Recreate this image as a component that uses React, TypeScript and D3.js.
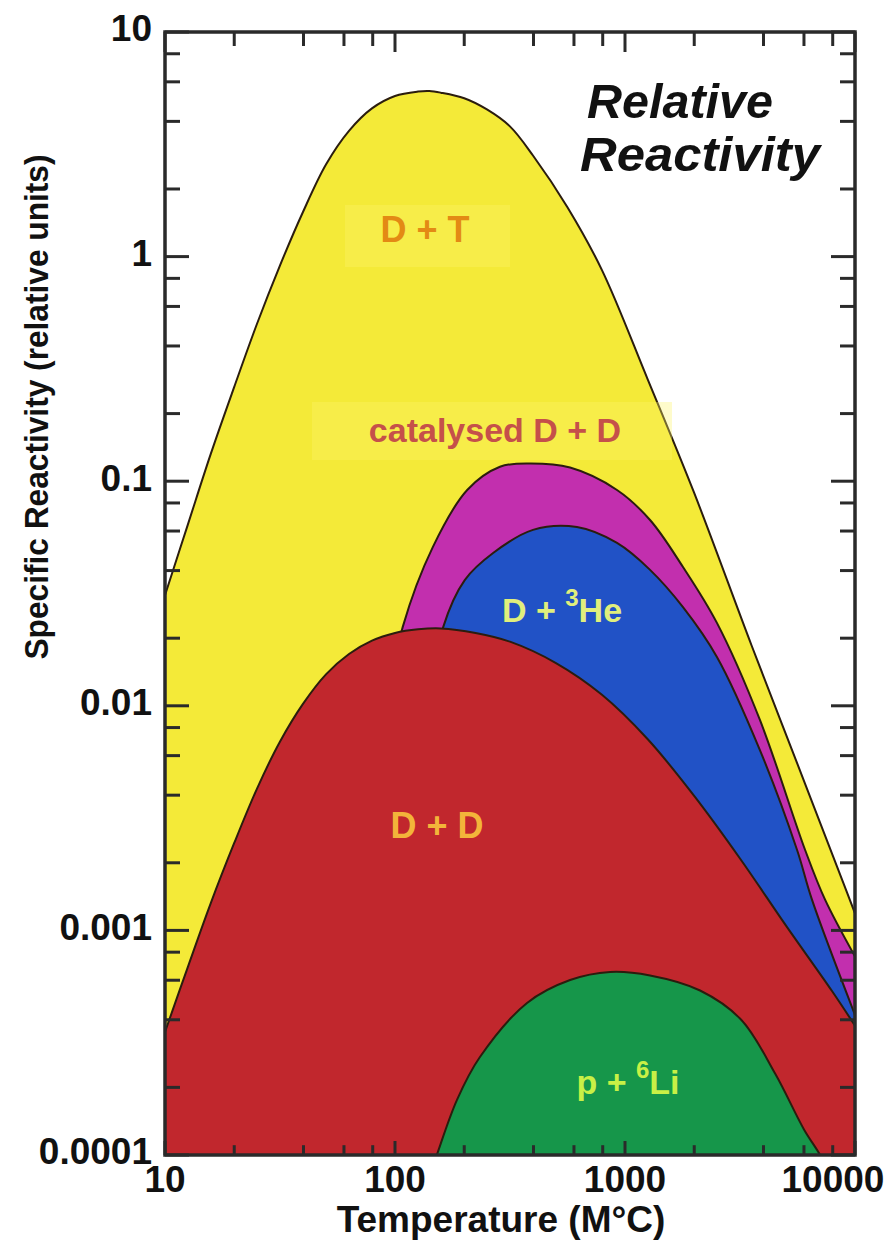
import React, { useEffect, useRef } from 'react';
import * as d3 from 'd3';

type Pt = [number, number];

// [temperature (M°C), specific reactivity (relative units)]
const dtCurve: Pt[] = [
  [8.9, 0.0214], [10, 0.0311], [12.6, 0.0646], [15.8, 0.132], [20, 0.263], [25.1, 0.501],
  [31.6, 0.912], [39.8, 1.58], [50.1, 2.57], [63.1, 3.63], [79.4, 4.57], [100, 5.19],
  [126, 5.43], [141, 5.46], [158, 5.37], [200, 5.07], [251, 4.52], [316, 3.8], [398, 2.82],
  [562, 1.66], [794, 0.871], [1259, 0.282], [1995, 0.0891], [3548, 0.0186], [5623, 0.0055],
  [8913, 0.00162], [10233, 0.00112],
];
const catDdCurve: Pt[] = [
  [86.1, 0.00705], [97, 0.013], [108, 0.0224], [146, 0.0509], [206, 0.0914], [286, 0.116],
  [386, 0.12], [577, 0.115], [923, 0.0914], [1285, 0.0672], [1787, 0.0415], [2510, 0.0234],
  [3860, 0.00865], [6070, 0.00228], [7410, 0.00137], [10200, 0.000738],
];
const dHe3Curve: Pt[] = [
  [142, 0.0106], [162, 0.0224], [201, 0.0363], [267, 0.0479], [398, 0.0607], [618, 0.0625],
  [923, 0.0531], [1285, 0.0403], [1787, 0.0275], [2510, 0.0165], [3860, 0.00635],
  [5600, 0.00228], [6500, 0.00137], [10200, 0.000399],
];
const ddCurve: Pt[] = [
  [8.9, 0.000251], [10, 0.000353], [12.6, 0.000692], [15.8, 0.00132], [20, 0.00245],
  [25.1, 0.00427], [31.6, 0.00692], [39.8, 0.0102], [50.1, 0.0138], [63.1, 0.017],
  [79.4, 0.0195], [100, 0.0211], [126, 0.0219], [158, 0.0221], [224, 0.0211], [316, 0.0193],
  [501, 0.0155], [794, 0.0112], [1259, 0.00708], [1995, 0.00398], [3162, 0.00209],
  [5012, 0.00105], [7943, 0.000537], [10233, 0.000363],
];
const pLi6Curve: Pt[] = [
  [142, 0.0000815], [152, 0.0001], [186, 0.000176], [234, 0.000273], [375, 0.000475],
  [577, 0.000601], [861, 0.000653], [1285, 0.00063], [2120, 0.00054], [3200, 0.0004],
  [4500, 0.00023], [6000, 0.00013], [7050, 0.0001], [7780, 0.0000815],
];

const xTickValues = [10, 100, 1000, 10000];
const yTickValues = [10, 1, 0.1, 0.01, 0.001, 0.0001];
const yTickLabels = ['10', '1', '0.1', '0.01', '0.001', '0.0001'];

const W = 895;
const H = 1242;
const FONT = '"Liberation Sans", Arial, Helvetica, sans-serif';

export default function App() {
  const ref = useRef<SVGSVGElement>(null);

  useEffect(() => {
    if (!ref.current) return;
    const svg = d3.select(ref.current);
    svg.selectAll('*').remove();

    const x = d3.scaleLog().domain([10, 10000]).range([165, 855]);
    const y = d3.scaleLog().domain([0.0001, 10]).range([1155, 32]);
    const [x0, x1] = x.range();
    const [yb, yt] = y.range();

    svg.append('rect').attr('width', W).attr('height', H).attr('fill', '#fff');

    svg.append('defs').append('clipPath').attr('id', 'plot-clip')
      .append('rect').attr('x', x0).attr('y', yt).attr('width', x1 - x0).attr('height', yb - yt);

    const plot = svg.append('g').attr('clip-path', 'url(#plot-clip)');

    const curve = d3.curveCatmullRom.alpha(0.5);
    const area = d3.area<Pt>().x(d => x(d[0])).y0(yb + 40).y1(d => y(d[1])).curve(curve);
    const line = d3.line<Pt>().x(d => x(d[0])).y(d => y(d[1])).curve(curve);

    const layers: { data: Pt[]; fill: string }[] = [
      { data: dtCurve, fill: '#f4ea38' },
      { data: catDdCurve, fill: '#c22fae' },
      { data: dHe3Curve, fill: '#2152c6' },
      { data: ddCurve, fill: '#c1272d' },
      { data: pLi6Curve, fill: '#16964a' },
    ];

    layers.forEach(l => {
      plot.append('path').attr('d', area(l.data)).attr('fill', l.fill);
      plot.append('path').attr('d', line(l.data)).attr('fill', 'none')
        .attr('stroke', '#2b1d0e').attr('stroke-width', 2);
    });

    // region labels
    const label = (tx: number, ty: number, color: string, size: number) =>
      svg.append('text').attr('x', tx).attr('y', ty).attr('text-anchor', 'middle')
        .attr('font-family', FONT).attr('font-weight', 'bold').attr('font-size', size)
        .attr('fill', color);

    svg.append('rect').attr('x', 345).attr('y', 205).attr('width', 165).attr('height', 62)
      .attr('fill', '#fbf36a').attr('opacity', 0.35);
    label(425, 242, '#e38a14', 36).text('D + T');

    svg.append('rect').attr('x', 312).attr('y', 402).attr('width', 360).attr('height', 58)
      .attr('fill', '#fbf36a').attr('opacity', 0.35);
    label(495, 442, '#c5504a', 34).text('catalysed D + D');

    const he = label(562, 622, '#e0ef7c', 34);
    he.append('tspan').text('D + ');
    he.append('tspan').attr('dy', -16).attr('font-size', 24).text('3');
    he.append('tspan').attr('dy', 16).text('He');

    label(437, 838, '#f3b43a', 36).text('D + D');

    const li = label(628, 1094, '#c8f046', 34);
    li.append('tspan').text('p + ');
    li.append('tspan').attr('dy', -16).attr('font-size', 24).text('6');
    li.append('tspan').attr('dy', 16).text('Li');

    // title
    svg.append('text').attr('x', 587).attr('y', 118).attr('font-family', FONT)
      .attr('font-weight', 'bold').attr('font-style', 'italic').attr('font-size', 48)
      .attr('textLength', 186).attr('lengthAdjust', 'spacingAndGlyphs')
      .attr('fill', '#111').text('Relative');
    svg.append('text').attr('x', 580).attr('y', 171).attr('font-family', FONT)
      .attr('font-weight', 'bold').attr('font-style', 'italic').attr('font-size', 48)
      .attr('textLength', 240).attr('lengthAdjust', 'spacingAndGlyphs')
      .attr('fill', '#111').text('Reactivity');

    // ticks
    const axisColor = '#2a2a2a';
    const axes = svg.append('g').attr('stroke', axisColor);
    const isMajor = (v: number) => Math.abs(Math.log10(v) - Math.round(Math.log10(v))) < 1e-6;
    const keep = (v: number) => {
      const m = Math.round(v / Math.pow(10, Math.floor(Math.log10(v) + 1e-9)));
      return m === 1 || m === 2 || m === 4 || m === 6 || m === 8;
    };

    x.ticks().filter(keep).forEach(v => {
      const px = x(v);
      const len = isMajor(v) ? 20 : 14;
      axes.append('line').attr('x1', px).attr('x2', px).attr('y1', yt).attr('y2', yt + len).attr('stroke-width', 3);
      axes.append('line').attr('x1', px).attr('x2', px).attr('y1', yb).attr('y2', yb - len * 0.7).attr('stroke-width', 3);
    });
    y.ticks().filter(keep).forEach(v => {
      const py = y(v);
      const len = isMajor(v) ? 24 : 15;
      axes.append('line').attr('y1', py).attr('y2', py).attr('x1', x0).attr('x2', x0 + len).attr('stroke-width', 3);
      axes.append('line').attr('y1', py).attr('y2', py).attr('x1', x1).attr('x2', x1 - len).attr('stroke-width', 3);
    });

    svg.append('rect').attr('x', x0).attr('y', yt).attr('width', x1 - x0).attr('height', yb - yt)
      .attr('fill', 'none').attr('stroke', axisColor).attr('stroke-width', 3.5);

    // tick labels
    xTickValues.forEach(v => {
      const cx = v === 10000 ? x(v) - 22 : x(v);
      svg.append('text').attr('x', cx).attr('y', 1192).attr('text-anchor', 'middle')
        .attr('font-family', FONT).attr('font-weight', 'bold').attr('font-size', 37)
        .attr('fill', '#111').text(String(v));
    });
    yTickValues.forEach((v, i) => {
      svg.append('text').attr('x', 152).attr('y', y(v) - 4).attr('dy', '0.36em')
        .attr('text-anchor', 'end').attr('font-family', FONT).attr('font-weight', 'bold')
        .attr('font-size', 37).attr('fill', '#111').text(yTickLabels[i]);
    });

    // axis titles
    svg.append('text').attr('x', 501).attr('y', 1232).attr('text-anchor', 'middle')
      .attr('font-family', FONT).attr('font-weight', 'bold').attr('font-size', 37)
      .attr('fill', '#111').text('Temperature (M°C)');
    svg.append('text').attr('transform', 'translate(48,407) rotate(-90)')
      .attr('text-anchor', 'middle').attr('font-family', FONT).attr('font-weight', 'bold')
      .attr('font-size', 34).attr('textLength', 505).attr('lengthAdjust', 'spacingAndGlyphs')
      .attr('fill', '#111').text('Specific Reactivity (relative units)');
  }, []);

  return (
    <div style={{ position: 'absolute', left: 0, top: 0 }}>
      <svg ref={ref} width={W} height={H}></svg>
    </div>
  );
}
